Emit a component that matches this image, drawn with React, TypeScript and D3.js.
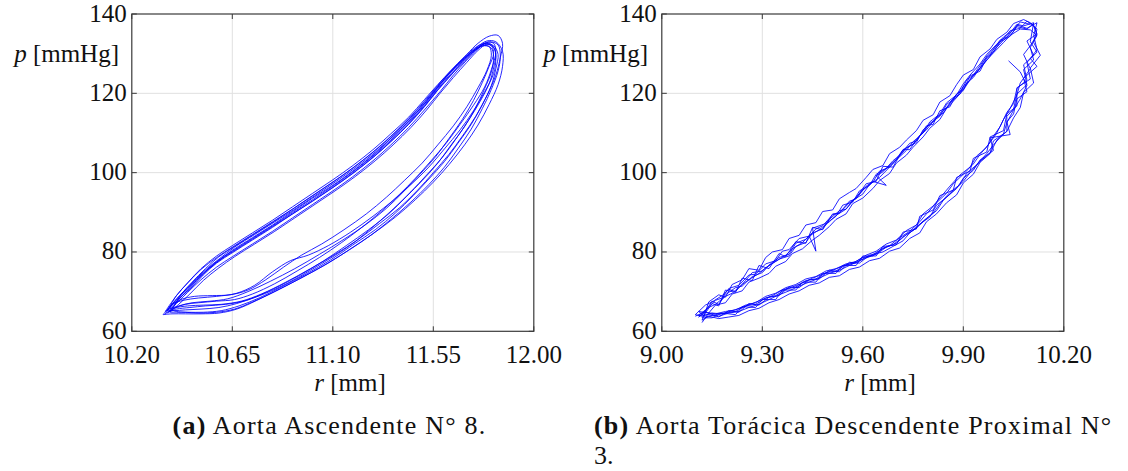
import React, { useEffect, useRef } from 'react'
import * as d3 from 'd3'

type Pt = [number, number]

// r [mm], p [mmHg]
const xTicksAsc = [10.2, 10.65, 11.1, 11.55, 12.0]
const xTicksDesc = [9.0, 9.3, 9.6, 9.9, 10.2]
const yTicks = [60, 80, 100, 120, 140]

const asc1: Pt[] = [[10.37,65.0],[10.41,68.0],[10.46,71.0],[10.52,74.6],[10.58,77.6],[10.65,80.2],[10.74,83.4],[10.83,86.6],[10.92,89.9],[11.01,93.2],[11.10,96.6],[11.19,100.2],[11.28,104.2],[11.36,108.2],[11.44,112.6],[11.51,117.0],[11.57,121.2],[11.63,125.0],[11.69,128.4],[11.74,131.0],[11.78,132.6],[11.81,132.3],[11.83,130.0],[11.82,126.4],[11.80,122.4],[11.76,118.0],[11.71,113.4],[11.65,108.4],[11.59,103.8],[11.52,99.4],[11.45,95.2],[11.37,90.8],[11.29,86.8],[11.20,82.6],[11.10,78.8],[11.00,75.4],[10.90,72.2],[10.80,69.6],[10.70,67.6],[10.62,66.8],[10.53,66.4],[10.46,66.0],[10.40,65.6],[10.37,65.0]]
const asc2: Pt[] = [[10.36,64.6],[10.40,67.0],[10.45,69.8],[10.51,73.0],[10.58,76.2],[10.65,78.8],[10.74,82.0],[10.83,85.2],[10.92,88.6],[11.01,92.0],[11.10,95.4],[11.19,99.0],[11.28,103.0],[11.36,107.0],[11.44,111.4],[11.51,115.8],[11.58,120.4],[11.64,124.6],[11.70,128.4],[11.75,131.2],[11.79,132.8],[11.82,132.6],[11.83,130.4],[11.81,126.0],[11.78,121.6],[11.73,117.0],[11.67,112.2],[11.61,107.6],[11.54,103.0],[11.47,98.6],[11.40,94.6],[11.32,90.4],[11.23,86.2],[11.14,82.4],[11.04,78.6],[10.94,75.2],[10.84,72.0],[10.74,69.4],[10.66,68.0],[10.58,67.6],[10.50,67.2],[10.44,66.8],[10.39,65.8],[10.36,64.6]]
const asc3: Pt[] = [[10.38,65.4],[10.42,69.2],[10.47,72.4],[10.53,75.8],[10.59,78.8],[10.66,81.4],[10.75,84.6],[10.84,87.8],[10.93,91.2],[11.02,94.6],[11.11,98.0],[11.20,101.6],[11.29,105.6],[11.37,109.6],[11.45,114.0],[11.52,118.4],[11.58,122.4],[11.64,126.2],[11.70,129.4],[11.75,131.6],[11.80,133.0],[11.84,132.2],[11.85,129.4],[11.84,125.6],[11.81,121.0],[11.77,116.2],[11.72,111.0],[11.66,106.0],[11.60,101.4],[11.53,97.0],[11.45,92.6],[11.36,88.2],[11.27,84.2],[11.17,80.4],[11.06,76.6],[10.95,73.2],[10.84,70.0],[10.74,67.4],[10.66,65.6],[10.58,64.8],[10.50,64.6],[10.44,64.8],[10.40,65.0],[10.38,65.4]]
const asc4: Pt[] = [[10.35,64.4],[10.40,68.2],[10.46,71.6],[10.52,75.0],[10.59,78.2],[10.66,81.2],[10.75,84.4],[10.84,87.6],[10.93,90.8],[11.02,94.2],[11.11,97.6],[11.20,101.2],[11.29,105.2],[11.37,109.2],[11.45,113.6],[11.52,118.0],[11.58,122.2],[11.64,126.2],[11.70,129.8],[11.75,132.6],[11.80,134.4],[11.84,134.6],[11.86,132.6],[11.85,129.0],[11.83,124.6],[11.79,119.4],[11.74,114.2],[11.68,109.2],[11.62,104.6],[11.55,100.0],[11.48,95.6],[11.40,91.2],[11.31,87.2],[11.21,83.0],[11.11,79.4],[11.00,75.8],[10.89,72.4],[10.78,69.4],[10.69,67.6],[10.60,66.8],[10.52,66.6],[10.45,66.4],[10.39,65.8],[10.35,64.4]]
const asc5: Pt[] = [[10.37,65.6],[10.41,68.0],[10.46,71.0],[10.52,74.4],[10.58,77.4],[10.65,80.0],[10.74,83.2],[10.83,86.4],[10.92,89.6],[11.01,92.8],[11.10,96.2],[11.19,99.8],[11.28,103.8],[11.36,107.8],[11.44,112.2],[11.51,116.6],[11.57,120.8],[11.63,124.6],[11.68,128.0],[11.73,130.6],[11.77,132.0],[11.80,131.8],[11.81,129.6],[11.79,125.8],[11.75,121.4],[11.70,116.6],[11.64,111.8],[11.57,107.0],[11.50,102.4],[11.42,98.0],[11.34,93.8],[11.25,89.6],[11.15,85.6],[11.05,82.0],[10.96,79.2],[10.88,76.2],[10.80,73.0],[10.72,70.4],[10.64,69.2],[10.56,69.0],[10.48,68.8],[10.42,68.0],[10.38,66.6],[10.37,65.6]]
const asc6: Pt[] = [[10.36,65.2],[10.40,69.0],[10.45,72.2],[10.51,75.8],[10.58,79.0],[10.65,81.6],[10.74,84.8],[10.83,88.0],[10.92,91.4],[11.01,94.8],[11.10,98.2],[11.19,101.8],[11.28,105.8],[11.36,109.8],[11.44,114.0],[11.51,118.4],[11.57,122.2],[11.63,125.8],[11.69,129.0],[11.74,131.2],[11.78,132.0],[11.81,131.4],[11.82,129.2],[11.81,125.4],[11.78,121.2],[11.74,116.4],[11.69,111.6],[11.63,107.0],[11.57,102.4],[11.50,98.0],[11.43,94.0],[11.35,89.6],[11.26,85.6],[11.16,81.6],[11.06,77.8],[10.96,74.4],[10.86,71.4],[10.76,68.8],[10.67,67.0],[10.59,66.0],[10.51,65.6],[10.44,65.4],[10.39,65.2],[10.36,65.2]]
const asc7: Pt[] = [[10.37,64.8],[10.41,66.8],[10.46,69.4],[10.52,72.8],[10.59,76.0],[10.66,78.8],[10.75,82.0],[10.84,85.2],[10.93,88.6],[11.02,92.0],[11.11,95.4],[11.20,99.0],[11.29,103.0],[11.37,107.0],[11.45,111.4],[11.52,115.8],[11.58,120.0],[11.64,124.0],[11.70,127.8],[11.75,130.8],[11.79,132.4],[11.82,132.0],[11.84,129.8],[11.83,126.2],[11.81,122.0],[11.77,117.2],[11.72,112.2],[11.66,107.4],[11.60,102.8],[11.53,98.4],[11.46,94.2],[11.38,89.8],[11.29,85.6],[11.19,81.8],[11.09,78.0],[10.98,74.4],[10.87,71.2],[10.77,68.4],[10.68,66.4],[10.60,65.2],[10.52,64.8],[10.45,64.8],[10.40,64.8],[10.37,64.8]]
const asc8: Pt[] = [[10.35,65.0],[10.40,69.0],[10.45,72.2],[10.51,75.6],[10.58,78.6],[10.65,81.2],[10.74,84.4],[10.83,87.6],[10.92,90.8],[11.01,94.2],[11.10,97.6],[11.19,101.2],[11.28,105.2],[11.36,109.2],[11.44,113.6],[11.51,118.0],[11.57,122.0],[11.63,125.8],[11.69,129.2],[11.74,131.6],[11.78,132.6],[11.81,132.0],[11.82,130.0],[11.80,126.8],[11.77,122.8],[11.73,118.2],[11.68,113.4],[11.62,108.6],[11.56,104.0],[11.49,99.6],[11.42,95.4],[11.34,91.0],[11.25,87.0],[11.15,83.2],[11.04,79.4],[10.93,75.8],[10.82,72.6],[10.72,70.0],[10.63,68.2],[10.55,67.6],[10.47,67.2],[10.41,66.4],[10.37,65.6],[10.35,65.0]]
const asc9: Pt[] = [[10.34,64.2],[10.39,67.4],[10.45,70.8],[10.51,74.2],[10.58,77.4],[10.65,80.4],[10.74,83.6],[10.83,86.8],[10.92,90.2],[11.01,93.6],[11.10,96.8],[11.19,100.4],[11.28,104.4],[11.36,108.6],[11.44,113.0],[11.51,117.4],[11.57,121.6],[11.63,125.4],[11.69,128.8],[11.74,131.4],[11.79,133.2],[11.83,133.0],[11.86,130.6],[11.86,126.8],[11.84,122.2],[11.80,117.2],[11.75,112.0],[11.69,107.0],[11.62,102.0],[11.55,97.6],[11.47,93.2],[11.38,88.8],[11.28,84.6],[11.18,80.8],[11.08,77.2],[10.97,73.8],[10.86,70.6],[10.76,67.8],[10.67,65.6],[10.59,64.6],[10.51,64.4],[10.44,64.4],[10.38,64.4],[10.34,64.2]]
const asc10: Pt[] = [[10.36,65.4],[10.40,67.8],[10.46,70.6],[10.52,74.2],[10.58,77.2],[10.65,79.8],[10.74,83.0],[10.83,86.2],[10.92,89.6],[11.01,92.9],[11.10,96.3],[11.19,99.9],[11.28,103.9],[11.36,107.9],[11.44,112.3],[11.51,116.7],[11.57,120.9],[11.63,124.7],[11.69,128.1],[11.74,130.9],[11.78,132.4],[11.82,131.6],[11.83,129.0],[11.82,125.0],[11.78,120.4],[11.73,115.6],[11.67,110.8],[11.60,106.0],[11.53,101.4],[11.45,97.0],[11.37,93.0],[11.28,89.0],[11.18,85.0],[11.08,81.6],[10.99,79.2],[10.91,77.8],[10.83,75.0],[10.75,71.6],[10.67,69.6],[10.58,68.8],[10.50,68.4],[10.43,67.8],[10.38,66.8],[10.36,65.4]]

const desc1: Pt[] = [[9.12,63.4],[9.15,67.0],[9.17,66.4],[9.19,70.4],[9.22,69.8],[9.24,73.4],[9.27,72.8],[9.29,76.6],[9.32,75.8],[9.35,79.6],[9.37,78.8],[9.40,82.6],[9.43,82.2],[9.45,86.2],[9.48,85.6],[9.51,89.6],[9.53,89.8],[9.56,92.4],[9.58,93.6],[9.61,97.2],[9.64,97.8],[9.66,101.6],[9.69,101.4],[9.72,105.8],[9.74,105.8],[9.77,109.4],[9.79,110.8],[9.82,114.0],[9.84,115.0],[9.87,118.8],[9.89,119.8],[9.91,123.4],[9.93,124.6],[9.96,128.2],[9.98,129.8],[10.01,133.4],[10.03,134.2],[10.06,137.4],[10.08,137.0],[10.11,137.8],[10.10,133.0],[10.12,130.4],[10.09,127.8],[10.10,123.6],[10.06,121.4],[10.06,116.8],[10.03,114.8],[10.02,110.6],[9.98,109.0],[9.97,105.2],[9.93,103.6],[9.92,100.4],[9.88,98.8],[9.87,95.6],[9.83,94.2],[9.81,90.6],[9.77,89.0],[9.76,85.8],[9.72,85.0],[9.70,81.8],[9.66,81.4],[9.64,79.0],[9.60,79.0],[9.58,76.6],[9.54,76.6],[9.52,74.6],[9.48,74.6],[9.46,72.4],[9.42,72.4],[9.40,70.4],[9.36,70.4],[9.34,68.0],[9.30,68.0],[9.28,66.0],[9.24,66.2],[9.22,64.2],[9.18,64.6],[9.15,63.4],[9.12,63.4]]
const desc2: Pt[] = [[9.11,64.0],[9.13,65.4],[9.16,67.8],[9.18,68.4],[9.20,70.8],[9.23,71.6],[9.26,74.2],[9.28,74.4],[9.31,77.0],[9.34,77.8],[9.36,80.2],[9.38,80.6],[9.41,83.4],[9.44,84.0],[9.46,80.2],[9.45,86.0],[9.49,87.2],[9.52,89.0],[9.54,91.8],[9.57,92.6],[9.59,95.4],[9.62,96.8],[9.64,99.6],[9.67,101.0],[9.70,103.4],[9.72,105.8],[9.75,107.2],[9.78,110.2],[9.80,112.4],[9.83,114.2],[9.85,117.2],[9.88,119.0],[9.90,121.8],[9.93,124.0],[9.95,126.4],[9.97,129.4],[9.99,131.2],[10.02,133.8],[10.04,135.8],[10.07,136.4],[10.09,138.2],[10.11,137.0],[10.12,134.8],[10.10,132.0],[10.08,129.8],[10.10,126.2],[10.07,122.6],[10.06,119.6],[10.04,116.2],[10.02,113.4],[10.00,110.0],[9.98,107.6],[9.95,104.6],[9.93,102.2],[9.90,99.6],[9.87,97.2],[9.85,94.8],[9.82,92.4],[9.79,89.6],[9.77,87.6],[9.74,85.2],[9.71,83.6],[9.68,81.6],[9.65,80.4],[9.62,78.8],[9.59,77.8],[9.56,76.6],[9.53,75.4],[9.50,74.6],[9.47,73.4],[9.44,72.4],[9.41,71.4],[9.38,70.2],[9.35,69.2],[9.32,68.0],[9.29,66.8],[9.26,66.0],[9.23,65.0],[9.20,64.6],[9.17,63.8],[9.14,64.2],[9.11,64.0]]
const desc3: Pt[] = [[10.035,128.2],[10.07,125.4],[10.09,122.0],[10.07,118.6],[10.05,115.8],[10.03,112.6],[10.02,109.8],[9.99,107.0],[9.97,104.8],[9.94,102.0],[9.91,99.8],[9.89,97.0],[9.86,95.0],[9.83,92.2],[9.81,89.8],[9.78,87.8],[9.75,85.4],[9.72,83.8],[9.69,81.8],[9.66,81.0],[9.63,79.0],[9.60,78.6],[9.57,77.2],[9.54,76.4],[9.51,75.4],[9.48,74.4],[9.45,73.4],[9.42,72.2],[9.39,71.2],[9.36,70.4],[9.33,69.0],[9.30,68.0],[9.27,67.0],[9.24,66.0],[9.21,65.2],[9.18,64.4],[9.15,64.6],[9.12,63.8],[9.10,64.2],[9.13,66.6],[9.15,67.4],[9.18,69.0],[9.20,70.6],[9.22,70.0],[9.25,72.8],[9.27,74.8],[9.30,75.2],[9.33,77.4],[9.35,78.6],[9.38,79.4],[9.40,82.2],[9.43,83.2],[9.46,85.8],[9.48,86.6],[9.51,89.4],[9.53,89.8],[9.56,92.8],[9.58,93.4],[9.61,96.6],[9.63,97.8],[9.67,96.8],[9.64,99.2],[9.66,100.2],[9.69,103.0],[9.71,104.4],[9.74,107.4],[9.76,108.0],[9.79,111.8],[9.81,112.2],[9.83,115.6],[9.86,116.6],[9.88,119.8],[9.90,120.8],[9.92,124.4],[9.95,125.6],[9.97,129.0],[9.99,130.4],[10.01,133.0],[10.04,134.4],[10.06,136.8],[10.09,136.2],[10.11,137.6]]
const desc4: Pt[] = [[10.11,137.2],[10.12,135.0],[10.09,133.2],[10.11,129.6],[10.08,127.2],[10.09,123.4],[10.06,121.2],[10.05,117.4],[10.03,115.2],[10.01,111.6],[9.99,109.2],[9.97,106.4],[9.94,104.2],[9.92,101.4],[9.89,99.4],[9.86,96.6],[9.84,94.6],[9.81,91.6],[9.78,89.6],[9.76,86.8],[9.73,85.4],[9.70,83.0],[9.67,82.0],[9.64,80.2],[9.61,79.2],[9.58,77.6],[9.55,77.0],[9.52,75.8],[9.49,75.2],[9.46,73.8],[9.43,73.2],[9.40,71.8],[9.37,71.0],[9.34,69.6],[9.31,68.8],[9.28,67.2],[9.25,66.6],[9.22,65.4],[9.19,65.0],[9.16,64.4],[9.13,64.8],[9.11,63.6],[9.14,66.0],[9.16,66.8],[9.19,68.8],[9.21,69.6],[9.24,71.8],[9.26,73.0],[9.29,74.6],[9.31,76.0],[9.34,77.6],[9.37,79.2],[9.39,80.8],[9.42,82.4],[9.44,84.0],[9.47,85.6],[9.50,87.6],[9.52,89.2],[9.55,90.8],[9.57,93.0],[9.60,94.6],[9.62,97.0],[9.65,98.8],[9.68,101.4],[9.70,103.2],[9.73,105.6],[9.75,107.8],[9.78,110.0],[9.80,112.8],[9.83,114.8],[9.85,117.6],[9.88,119.6],[9.90,122.4],[9.92,124.6],[9.95,127.4],[9.97,129.8],[10.00,132.4],[10.02,134.2],[10.05,136.0],[10.07,138.0],[10.10,137.4]]
const desc5: Pt[] = [[9.10,63.8],[9.13,65.0],[9.15,67.6],[9.17,66.8],[9.19,69.2],[9.22,71.0],[9.24,71.4],[9.27,73.8],[9.30,74.8],[9.32,76.6],[9.35,78.2],[9.38,79.0],[9.40,81.4],[9.43,82.4],[9.45,84.8],[9.48,85.8],[9.50,88.2],[9.53,90.4],[9.55,90.8],[9.58,93.8],[9.60,95.6],[9.63,97.6],[9.65,100.4],[9.68,101.4],[9.71,104.2],[9.73,106.2],[9.76,107.6],[9.78,110.8],[9.81,112.8],[9.83,114.6],[9.86,117.4],[9.88,119.8],[9.90,121.2],[9.93,124.6],[9.95,126.2],[9.98,129.4],[10.00,131.6],[10.02,133.4],[10.05,135.6],[10.06,137.2],[10.09,136.4],[10.12,137.8],[10.11,134.6],[10.12,131.0],[10.10,128.8],[10.12,126.8],[10.08,123.8],[10.09,120.4],[10.06,118.6],[10.05,114.8],[10.03,112.8],[10.04,109.6],[9.98,108.8],[9.99,105.6],[9.95,103.2],[9.93,100.6],[9.90,98.6],[9.88,96.0],[9.85,93.8],[9.82,91.8],[9.80,88.8],[9.77,87.0],[9.74,84.8],[9.72,82.8],[9.69,81.4],[9.66,80.0],[9.62,79.2],[9.59,77.2],[9.56,77.4],[9.53,75.0],[9.50,75.4],[9.47,73.2],[9.44,73.0],[9.41,71.0],[9.38,71.2],[9.35,69.0],[9.32,68.6],[9.29,66.6],[9.26,67.0],[9.23,64.8],[9.20,65.2],[9.17,63.6],[9.14,64.6],[9.12,62.2]]
const desc6: Pt[] = [[9.13,64.8],[9.14,67.4],[9.17,69.2],[9.19,68.6],[9.21,71.8],[9.24,73.0],[9.26,75.8],[9.29,75.4],[9.31,78.6],[9.33,80.0],[9.36,80.6],[9.38,83.4],[9.41,84.2],[9.43,86.8],[9.46,87.4],[9.48,90.2],[9.51,90.6],[9.53,93.4],[9.56,95.0],[9.58,96.0],[9.61,98.8],[9.63,100.8],[9.66,101.8],[9.68,104.8],[9.71,106.4],[9.73,108.2],[9.76,110.6],[9.78,113.2],[9.81,114.6],[9.83,117.8],[9.86,119.4],[9.88,122.2],[9.90,124.6],[9.93,126.0],[9.95,129.2],[9.98,131.2],[10.00,133.6],[10.03,135.4],[10.05,137.6],[10.08,138.6],[10.10,137.8],[10.12,136.2],[10.11,132.8],[10.13,129.6],[10.10,126.4],[10.11,122.6],[10.08,120.2],[10.07,116.4],[10.05,113.8],[10.03,110.4],[10.00,108.2],[9.98,104.8],[9.95,102.6],[9.93,99.6],[9.90,97.4],[9.88,94.4],[9.85,92.4],[9.82,89.6],[9.79,87.6],[9.77,84.8],[9.74,83.4],[9.71,81.0],[9.68,80.2],[9.65,78.4],[9.62,77.8],[9.59,76.2],[9.56,75.6],[9.53,74.0],[9.50,73.6],[9.47,72.2],[9.44,71.6],[9.41,70.2],[9.38,69.4],[9.35,68.0],[9.32,67.2],[9.29,65.8],[9.26,65.2],[9.23,64.0],[9.20,63.6],[9.17,63.2],[9.14,63.8],[9.12,62.8],[9.13,64.8]]
const desc7: Pt[] = [[9.11,65.0],[9.14,64.6],[9.16,66.6],[9.19,67.2],[9.21,69.4],[9.24,70.2],[9.26,72.4],[9.29,73.4],[9.32,74.6],[9.34,76.4],[9.37,77.6],[9.39,79.6],[9.42,80.8],[9.45,83.0],[9.47,84.2],[9.50,86.4],[9.52,88.2],[9.55,89.6],[9.57,92.2],[9.60,93.6],[9.63,96.0],[9.65,98.0],[9.68,99.8],[9.70,102.4],[9.73,104.4],[9.75,106.4],[9.78,109.0],[9.80,111.2],[9.83,113.4],[9.85,116.2],[9.87,118.0],[9.90,120.8],[9.92,123.4],[9.94,125.4],[9.97,128.4],[9.99,130.2],[10.02,132.8],[10.04,134.6],[10.07,136.2],[10.10,136.0],[10.12,134.6],[10.10,131.6],[10.11,128.4],[10.08,126.0],[10.09,122.2],[10.06,119.8],[10.05,116.0],[10.03,114.2],[10.03,110.4],[9.99,108.0],[9.98,105.0],[9.95,102.8],[9.92,100.0],[9.90,97.8],[9.87,95.4],[9.84,93.0],[9.82,90.4],[9.79,88.4],[9.76,86.0],[9.73,84.4],[9.70,82.2],[9.67,81.2],[9.64,79.4],[9.61,78.8],[9.58,77.2],[9.55,76.8],[9.52,75.2],[9.49,74.8],[9.46,73.2],[9.43,72.8],[9.40,71.2],[9.37,70.6],[9.34,69.0],[9.31,68.4],[9.28,66.8],[9.25,66.4],[9.22,65.0],[9.19,64.6],[9.16,64.2],[9.13,63.6],[9.11,65.0]]

const ascCycles = [asc1, asc2, asc3, asc4, asc5, asc6, asc7, asc8, asc9, asc10]
const descCycles = [desc1, desc2, desc3, desc4, desc5, desc6, desc7]

const FONT = '"Liberation Serif"'
const INK = '#111'

const App = () => {
  const ref = useRef<SVGSVGElement>(null)

  useEffect(() => {
    const svg = d3.select(ref.current)
    svg.selectAll('*').remove()

    const TOP = 14
    const BOTTOM = 331.3
    const W = 402

    const panels = [
      { left: 131.8, domain: [10.2, 12.0], ticks: xTicksAsc, cycles: ascCycles, curve: d3.curveCatmullRom.alpha(0.5), yLabelEnd: 119, xLabelMid: 350 },
      { left: 661.8, domain: [9.0, 10.2], ticks: xTicksDesc, cycles: descCycles, curve: d3.curveLinear, yLabelEnd: 648, xLabelMid: 880 },
    ]

    const txt = (sel: any, size = 25) => sel.attr('font-family', FONT).attr('font-size', size).attr('fill', INK)

    panels.forEach(pn => {
      const x = d3.scaleLinear().domain(pn.domain).range([pn.left, pn.left + W])
      const y = d3.scaleLinear().domain([60, 140]).range([BOTTOM, TOP])
      const g = svg.append('g')

      // grid
      g.selectAll('.gx').data(pn.ticks.slice(1, -1)).enter().append('line')
        .attr('x1', d => x(d)).attr('x2', d => x(d)).attr('y1', TOP).attr('y2', BOTTOM)
        .attr('stroke', '#e0e0e0').attr('stroke-width', 1)
      g.selectAll('.gy').data(yTicks.slice(1, -1)).enter().append('line')
        .attr('x1', pn.left).attr('x2', pn.left + W).attr('y1', d => y(d)).attr('y2', d => y(d))
        .attr('stroke', '#e0e0e0').attr('stroke-width', 1)

      // loops
      const line = d3.line<Pt>().x(d => x(d[0])).y(d => y(d[1])).curve(pn.curve)
      g.selectAll('.loop').data(pn.cycles).enter().append('path')
        .attr('d', d => line(d))
        .attr('fill', 'none').attr('stroke', '#0000ff').attr('stroke-width', 0.85)

      // box and inward ticks
      g.append('rect').attr('x', pn.left).attr('y', TOP).attr('width', W).attr('height', BOTTOM - TOP)
        .attr('fill', 'none').attr('stroke', '#3a3a3a').attr('stroke-width', 1.2)
      const tl = 5
      pn.ticks.forEach(t => {
        g.append('line').attr('x1', x(t)).attr('x2', x(t)).attr('y1', BOTTOM).attr('y2', BOTTOM - tl).attr('stroke', '#3a3a3a')
        g.append('line').attr('x1', x(t)).attr('x2', x(t)).attr('y1', TOP).attr('y2', TOP + tl).attr('stroke', '#3a3a3a')
      })
      yTicks.forEach(t => {
        g.append('line').attr('x1', pn.left).attr('x2', pn.left + tl).attr('y1', y(t)).attr('y2', y(t)).attr('stroke', '#3a3a3a')
        g.append('line').attr('x1', pn.left + W).attr('x2', pn.left + W - tl).attr('y1', y(t)).attr('y2', y(t)).attr('stroke', '#3a3a3a')
      })

      // tick labels
      g.selectAll('.xl').data(pn.ticks).enter().append('text')
        .attr('x', d => x(d)).attr('y', 363).attr('text-anchor', 'middle')
        .call(txt)
        .text(d => d3.format('.2f')(d))
      g.selectAll('.yl').data(yTicks).enter().append('text')
        .attr('x', pn.left - 5).attr('y', d => y(d)).attr('dy', '0.3em').attr('text-anchor', 'end')
        .call(txt)
        .text(d => d)

      // axis labels
      const yl = g.append('text').attr('x', pn.yLabelEnd).attr('y', 62).attr('text-anchor', 'end').call(txt)
      yl.append('tspan').attr('font-style', 'italic').text('p')
      yl.append('tspan').text(' [mmHg]')
      const xl = g.append('text').attr('x', pn.xLabelMid).attr('y', 391).attr('text-anchor', 'middle').call(txt)
      xl.append('tspan').attr('font-style', 'italic').text('r')
      xl.append('tspan').text(' [mm]')
    })

    // captions
    const ca = svg.append('text').attr('x', 329.5).attr('y', 434).attr('text-anchor', 'middle')
      .call(txt, 26).attr('letter-spacing', 1.2)
    ca.append('tspan').attr('font-weight', 'bold').text('(a)')
    ca.append('tspan').text(' Aorta Ascendente N° 8.')

    const cb = svg.append('text').attr('x', 594).attr('y', 434)
      .call(txt, 26).attr('letter-spacing', 1.2)
    cb.append('tspan').attr('font-weight', 'bold').text('(b)')
    cb.append('tspan').text(' Aorta Torácica Descendente Proximal N°')
    svg.append('text').attr('x', 594).attr('y', 464).call(txt, 26).text('3.')
  }, [])

  return (
    <svg ref={ref} width={1128} height={471}
      style={{ position: 'absolute', left: 0, top: 0, background: '#fff' }} />
  )
}

export default App
